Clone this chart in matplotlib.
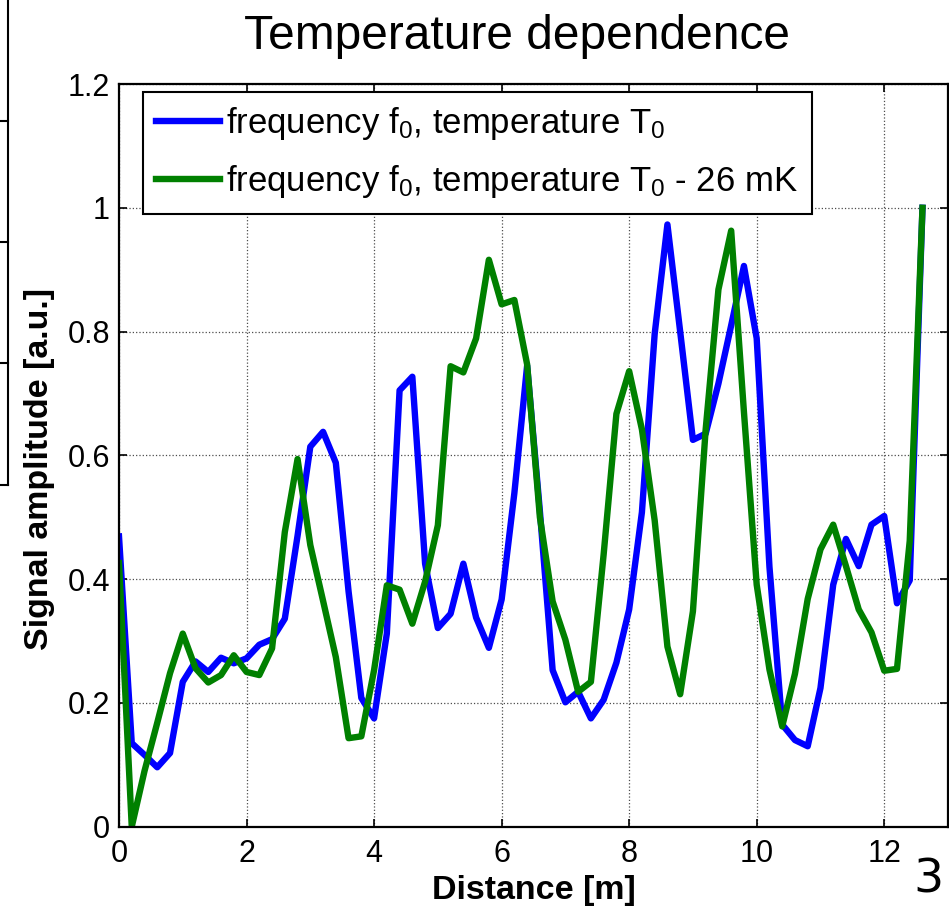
import numpy as np
import matplotlib
matplotlib.use('Agg')
import matplotlib.pyplot as plt
from matplotlib.lines import Line2D

# distance samples (m), every 0.2 m
distance = np.round(np.arange(64) * 0.2, 1)

amp_T0 = [0.469, 0.135, 0.116, 0.096, 0.119, 0.234, 0.267, 0.250, 0.273, 0.264,
          0.272, 0.294, 0.303, 0.336, 0.470, 0.614, 0.638, 0.588, 0.380, 0.208,
          0.175, 0.312, 0.705, 0.727, 0.425, 0.321, 0.344, 0.425, 0.338, 0.289,
          0.367, 0.539, 0.745, 0.510, 0.253, 0.201, 0.218, 0.175, 0.205, 0.265,
          0.351, 0.508, 0.796, 0.973, 0.800, 0.625, 0.635, 0.716, 0.810, 0.906,
          0.789, 0.420, 0.165, 0.140, 0.130, 0.224, 0.391, 0.465, 0.421, 0.488,
          0.502, 0.361, 0.398, 1.000]

amp_T0_26mK = [0.426, 0.000, 0.090, 0.168, 0.248, 0.312, 0.256, 0.233, 0.245, 0.277,
               0.250, 0.245, 0.288, 0.476, 0.594, 0.455, 0.365, 0.274, 0.143, 0.146,
               0.253, 0.390, 0.383, 0.328, 0.396, 0.487, 0.744, 0.734, 0.789, 0.916,
               0.844, 0.851, 0.747, 0.500, 0.364, 0.302, 0.218, 0.234, 0.440, 0.667,
               0.736, 0.642, 0.495, 0.291, 0.214, 0.348, 0.642, 0.868, 0.963, 0.670,
               0.391, 0.254, 0.162, 0.247, 0.368, 0.448, 0.488, 0.421, 0.351, 0.314,
               0.252, 0.255, 0.462, 1.000]

labels = ['frequency f$_0$, temperature T$_0$',
          'frequency f$_0$, temperature T$_0$ - 26 mK']

x_ticks = [0, 2, 4, 6, 8, 10, 12]
y_ticks = [0, 0.2, 0.4, 0.6, 0.8, 1.0, 1.2]

plt.rcParams['font.family'] = ['Liberation Sans', 'DejaVu Sans']
plt.rcParams['mathtext.fontset'] = 'custom'
plt.rcParams['mathtext.rm'] = 'Liberation Sans'
plt.rcParams['mathtext.default'] = 'regular'

W, H = 949, 908
fig = plt.figure(figsize=(W / 100, H / 100), dpi=100)
ax = fig.add_axes([119 / W, 1 - 826.7 / H, (948 - 119) / W, (826.7 - 84) / H])

ax.plot(distance, amp_T0, color=(0, 0, 1), linewidth=4.6, label=labels[0])
ax.plot(distance, amp_T0_26mK, color=(0, 0.5, 0), linewidth=4.6, label=labels[1])

ax.set_xlim(0, 13)
ax.set_ylim(0, 1.2)
ax.set_xticks(x_ticks)
ax.set_yticks(y_ticks)
ax.set_xticklabels([f'{v:g}' for v in x_ticks])
ax.set_yticklabels([f'{v:g}' for v in y_ticks])
ax.tick_params(axis='both', direction='in', length=6, width=1.2, labelsize=22,
               top=True, right=True, colors='black')
ax.tick_params(axis='x', pad=9)
ax.tick_params(axis='y', pad=6.5)
ax.grid(True, color='0.3', linestyle=':', linewidth=0.9)
for s in ax.spines.values():
    s.set_linewidth(1.6)

ax.set_xlabel('Distance [m]', fontsize=24.5, fontweight='bold', labelpad=4)
ax.set_ylabel('Signal amplitude [a.u.]', fontsize=24.5, fontweight='bold',
              labelpad=9, y=0.482)
ax.set_title('Temperature dependence', fontsize=34.5, pad=25, x=0.48)

leg = ax.legend(loc='upper left', bbox_to_anchor=(0.0286, 0.9896), borderaxespad=0,
                fontsize=25, handlelength=1.84, handletextpad=0.19, borderpad=0.38,
                labelspacing=0.62, fancybox=False, framealpha=1)
leg.get_frame().set_edgecolor('black')
leg.get_frame().set_linewidth(1.5)

# edge of a neighbouring slide table and the slide number
fig.add_artist(Line2D([8 / W, 8 / W], [1, 1 - 485 / H], transform=fig.transFigure,
                      color='black', linewidth=1.5))
for yy in [121, 242, 363, 485]:
    fig.add_artist(Line2D([0, 8 / W], [1 - yy / H, 1 - yy / H], transform=fig.transFigure,
                          color='black', linewidth=1.5))
fig.text(928 / W, 1 - 880 / H, '3', fontsize=34, family='DejaVu Sans',
         ha='center', va='center')

fig.savefig('out.png', dpi=100)
